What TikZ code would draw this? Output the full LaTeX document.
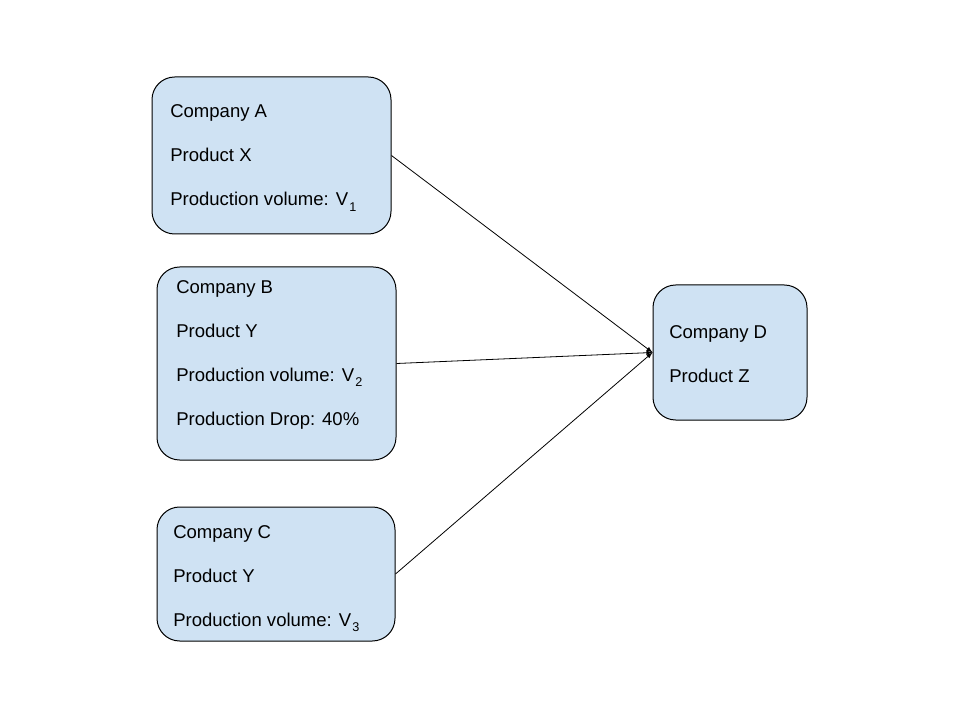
\documentclass[tikz,border=0pt]{standalone}
\usepackage{fontspec}
\setmainfont{Liberation Sans}
\usetikzlibrary{arrows}
\definecolor{boxblue}{HTML}{CFE2F3}
\newcommand\vsub[1]{V\raisebox{-4pt}{\fontsize{9.5}{9.5}\selectfont\kern1pt#1}}

\tikzset{
  company/.style={draw=black,fill=boxblue,line width=0.75pt,rounded corners=17pt,inner sep=0pt},
  info/.style={anchor=base west,align=left,inner sep=0pt,font=\fontsize{13.9}{33}\selectfont},
  link/.style={-latex,line width=0.6pt}
}

\begin{document}
\begin{tikzpicture}[x=0.75pt,y=-0.75pt]
\useasboundingbox (0,0) rectangle (960,720);
% supplier boxes
\node[company,minimum width=239*0.75pt,minimum height=157*0.75pt] (boxA) at (271.5,155.5) {};
\node[company,minimum width=239*0.75pt,minimum height=193*0.75pt] (boxB) at (276.5,363.5) {};
\node[company,minimum width=238*0.75pt,minimum height=134*0.75pt] (boxC) at (276,574) {};
\node[company,minimum width=154*0.75pt,minimum height=135*0.75pt] (boxD) at (730,352.5) {};
% texts (anchored at the last line)
\node[info] (txtA) at (170,206) {Company A\\Product X\\Production volume: \vsub{1}};
\node[info] (txtB) at (176,425) {Company B\\Product Y\\Production volume: \vsub{2}\\Production Drop: 40\%};
\node[info] (txtC) at (173,626) {Company C\\Product Y\\Production volume: \vsub{3}};
\node[info] (txtD) at (669,382) {Company D\\Product Z};
% supply lines
\draw[link] (boxA.east) -- (boxD.west);
\draw[link] (boxB.east) -- (boxD.west);
\draw[link] (boxC.east) -- (boxD.west);
\end{tikzpicture}
\end{document}
